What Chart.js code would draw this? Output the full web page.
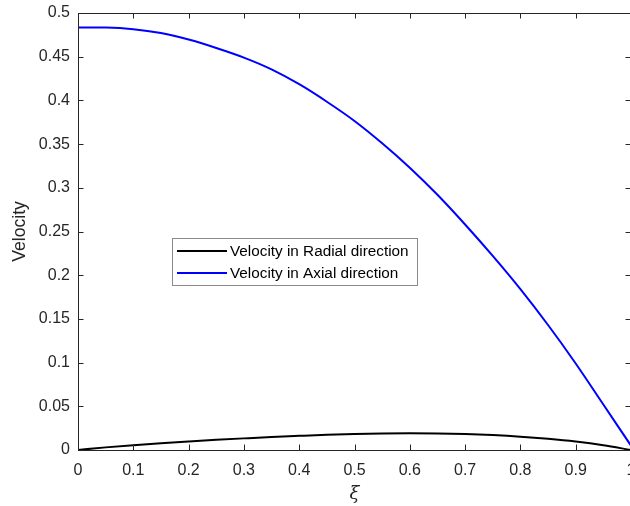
<!DOCTYPE html>
<html>
<head>
<meta charset="utf-8">
<script src="https://cdn.jsdelivr.net/npm/chart.js@4/dist/chart.umd.min.js"></script>
<style>
html,body{margin:0;padding:0;background:#fff;overflow:hidden;}
#wrap{width:640px;height:506px;}
</style>
</head>
<body>
<div id="wrap"><canvas id="c" width="640" height="506"></canvas></div>
<script>
// ---- data ----
const xi = [0,0.05,0.1,0.15,0.2,0.25,0.3,0.35,0.4,0.45,0.5,0.55,0.6,0.65,0.7,0.75,0.8,0.85,0.9,0.95,1];
const radialVelocity = [0,0.003,0.0055,0.0077,0.0097,0.0116,0.0133,0.0149,0.0162,0.0174,0.0183,0.0189,0.0191,0.0189,0.0183,0.0171,0.0153,0.0128,0.0096,0.0054,0];
const axialVelocity = [0.4835,0.4833,0.4815,0.477,0.4696,0.460,0.449,0.4355,0.4185,0.3985,0.3765,0.351,0.323,0.292,0.258,0.222,0.184,0.143,0.099,0.052,0.005];
const seriesLabels = ['Velocity in Radial direction','Velocity in Axial direction'];
const xTicks = [0,0.1,0.2,0.3,0.4,0.5,0.6,0.7,0.8,0.9,1];
const yTicks = [0,0.05,0.1,0.15,0.2,0.25,0.3,0.35,0.4,0.45,0.5];

const FONT = "'Liberation Sans', Arial, Helvetica, sans-serif";
const AX = '#262626';

function pts(xs, ys){ return xs.map((x,i)=>({x:x,y:ys[i]})); }
function fmt(v){ return String(Number(v.toFixed(2))); }

const boxTicks = {
  id:'boxTicks',
  afterDraw(chart){
    const ctx = chart.ctx, a = chart.chartArea;
    const xs = chart.scales.x, ys = chart.scales.y;
    ctx.save();
    ctx.strokeStyle = AX; ctx.lineWidth = 1;
    ctx.beginPath();
    ctx.rect(Math.round(a.left)+0.5, Math.round(a.top)+0.5, Math.round(a.right-a.left), Math.round(a.bottom-a.top));
    ctx.stroke();
    const L = 5.5;
    ctx.beginPath();
    xTicks.forEach(v=>{
      const p = Math.round(xs.getPixelForValue(v))+0.5;
      ctx.moveTo(p, a.bottom); ctx.lineTo(p, a.bottom-L);
      ctx.moveTo(p, a.top); ctx.lineTo(p, a.top+L);
    });
    yTicks.forEach(v=>{
      const p = Math.round(ys.getPixelForValue(v))+0.5;
      ctx.moveTo(a.left, p); ctx.lineTo(a.left+L, p);
      ctx.moveTo(a.right, p); ctx.lineTo(a.right-L, p);
    });
    ctx.stroke();
    // legend
    const bx = 172.5, by = 238.5, bw = 245, bh = 47;
    ctx.fillStyle = '#fff';
    ctx.fillRect(bx, by, bw, bh);
    ctx.strokeStyle = '#8a8a8a';
    ctx.strokeRect(bx, by, bw, bh);
    ctx.font = '15.3px ' + FONT;
    ctx.textBaseline = 'middle';
    chart.data.datasets.forEach((ds, i)=>{
      const y = by + 12.5 + i*22;
      ctx.strokeStyle = ds.borderColor; ctx.lineWidth = 2;
      ctx.beginPath(); ctx.moveTo(177, y); ctx.lineTo(227, y); ctx.stroke();
      ctx.fillStyle = '#000';
      ctx.fillText(ds.label, 230, y+1);
    });
    ctx.restore();
  }
};

new Chart(document.getElementById('c'), {
  type:'line',
  data:{
    datasets:[
      {label:seriesLabels[0], data:pts(xi, radialVelocity), borderColor:'#000000', borderWidth:2, pointRadius:0, cubicInterpolationMode:'monotone', fill:false, order:1},
      {label:seriesLabels[1], data:pts(xi, axialVelocity), borderColor:'#0000ff', borderWidth:2, pointRadius:0, cubicInterpolationMode:'monotone', fill:false, order:0}
    ]
  },
  options:{
    responsive:false,
    animation:false,
    events:[],
    layout:{padding:{top:13, right:9, left:0, bottom:0}},
    plugins:{legend:{display:false}, tooltip:{enabled:false}},
    scales:{
      x:{
        type:'linear', min:0, max:1,
        grid:{display:false, drawTicks:false},
        border:{display:false},
        afterBuildTicks(s){ s.ticks = xTicks.map(v=>({value:v})); },
        afterFit(s){ s.height = 56; s.paddingLeft = 0; s.paddingRight = 0; },
        ticks:{padding:11, color:AX, maxRotation:0, font:{family:FONT, size:16}, callback:(v)=>fmt(v)},
        title:{display:true, text:'ξ', color:AX, font:{family:"'DejaVu Serif', 'Liberation Serif', serif", size:18, style:'italic'}, padding:{top:0,bottom:1}}
      },
      y:{
        type:'linear', min:0, max:0.5,
        grid:{display:false, drawTicks:false},
        border:{display:false},
        afterBuildTicks(s){ s.ticks = yTicks.map(v=>({value:v})); },
        afterFit(s){ s.width = 78; s.paddingTop = 0; s.paddingBottom = 0; },
        ticks:{padding:8, color:AX, font:{family:FONT, size:16}, callback:(v)=>fmt(v)},
        title:{display:true, text:'Velocity', color:AX, font:{family:FONT, size:17.6}, padding:{top:10,bottom:0}}
      }
    }
  },
  plugins:[boxTicks]
});
</script>
</body>
</html>
